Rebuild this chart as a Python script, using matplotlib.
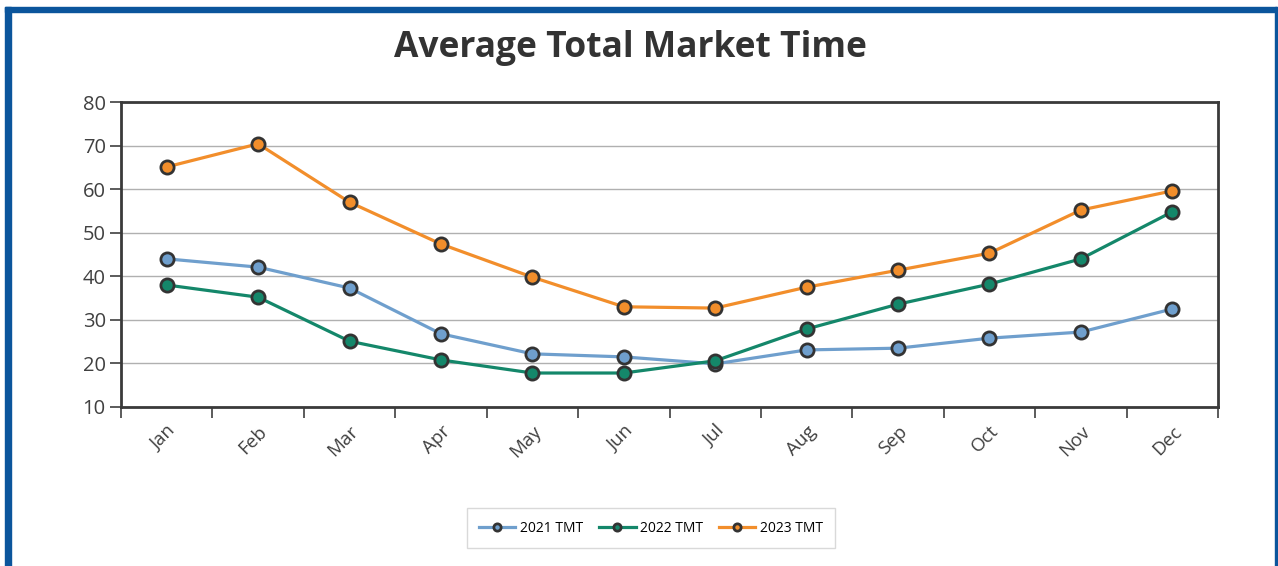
import matplotlib.pyplot as plt
from matplotlib.patches import Rectangle
import numpy as np

plt.rcParams['font.family'] = ['Open Sans', 'DejaVu Sans']

months = ['Jan', 'Feb', 'Mar', 'Apr', 'May', 'Jun',
          'Jul', 'Aug', 'Sep', 'Oct', 'Nov', 'Dec']
tmt_2021 = [44.0, 42.1, 37.3, 26.8, 22.2, 21.5, 19.9, 23.1, 23.5, 25.8, 27.2, 32.5]
tmt_2022 = [38.0, 35.2, 25.1, 20.8, 17.8, 17.8, 20.6, 27.9, 33.6, 38.2, 44.0, 54.8]
tmt_2023 = [65.1, 70.4, 57.0, 47.4, 39.8, 33.0, 32.7, 37.5, 41.4, 45.3, 55.2, 59.6]
series_names = ['2021 TMT', '2022 TMT', '2023 TMT']
colors = ['#6f9fcd', '#14876a', '#f28e2b']

fig = plt.figure(figsize=(12.78, 5.66), dpi=100)
W, H = 1278, 566

# blue frame around the picture (bottom is cut off)
frame = '#0b559c'
fig.patches.append(Rectangle((5 / W, 0), 6 / W, 1 - 7 / H, transform=fig.transFigure,
                             color=frame, zorder=0))
fig.patches.append(Rectangle((5 / W, 1 - 12 / H), (1277 - 5) / W, 5 / H,
                             transform=fig.transFigure, color=frame, zorder=0))
fig.patches.append(Rectangle((1275 / W, 0), 2 / W, 1 - 7 / H, transform=fig.transFigure,
                             color=frame, zorder=0))

ax = fig.add_axes([121 / W, 1 - 407 / H, (1218 - 121) / W, (407 - 102) / H])

x = np.arange(len(months))
for vals, name, c in zip([tmt_2021, tmt_2022, tmt_2023], series_names, colors):
    ax.plot(x, vals, color=c, lw=2.3, marker='o', ms=9.5, mfc=c,
            mec='#333333', mew=2.0, label=name, zorder=3)

ax.set_xlim(-0.5, len(months) - 0.5)
ax.set_ylim(10, 80)
ax.set_yticks(range(10, 81, 10))
ax.yaxis.grid(True, color='#b0b0b0', lw=1)
ax.set_axisbelow(True)

# ticks at category boundaries, labels at centres
ax.set_xticks(np.arange(-0.5, len(months), 1))
ax.set_xticklabels([])
ax.set_xticks(x, minor=True)
ax.set_xticklabels(months, minor=True, rotation=45, ha='right', va='top',
                   rotation_mode='anchor', fontsize=13.5, color='#404040')
ax.tick_params(axis='x', which='major', length=8, width=1.2, color='#404040', direction='out')
ax.tick_params(axis='x', which='minor', length=0, pad=11)
ax.tick_params(axis='y', length=8, width=1.2, color='#404040', labelsize=14.5,
               labelcolor='#404040', pad=3)

for s in ax.spines.values():
    s.set_color('#3a3a3a')
    s.set_linewidth(2)

fig.text(630 / W, 1 - 48 / H, 'Average Total Market Time', ha='center', va='center',
         fontsize=25.5, fontweight='bold', color='#333333')

leg = fig.legend(loc='center', bbox_to_anchor=(651 / W, 1 - 528 / H), ncol=3,
                 fontsize=10, frameon=True, fancybox=False, edgecolor='#d0d0d0',
                 handlelength=2.6, columnspacing=1.2, handletextpad=0.3,
                 borderpad=0.9, markerscale=0.55)
leg.get_frame().set_linewidth(1)

fig.savefig('out.png', dpi=100)
